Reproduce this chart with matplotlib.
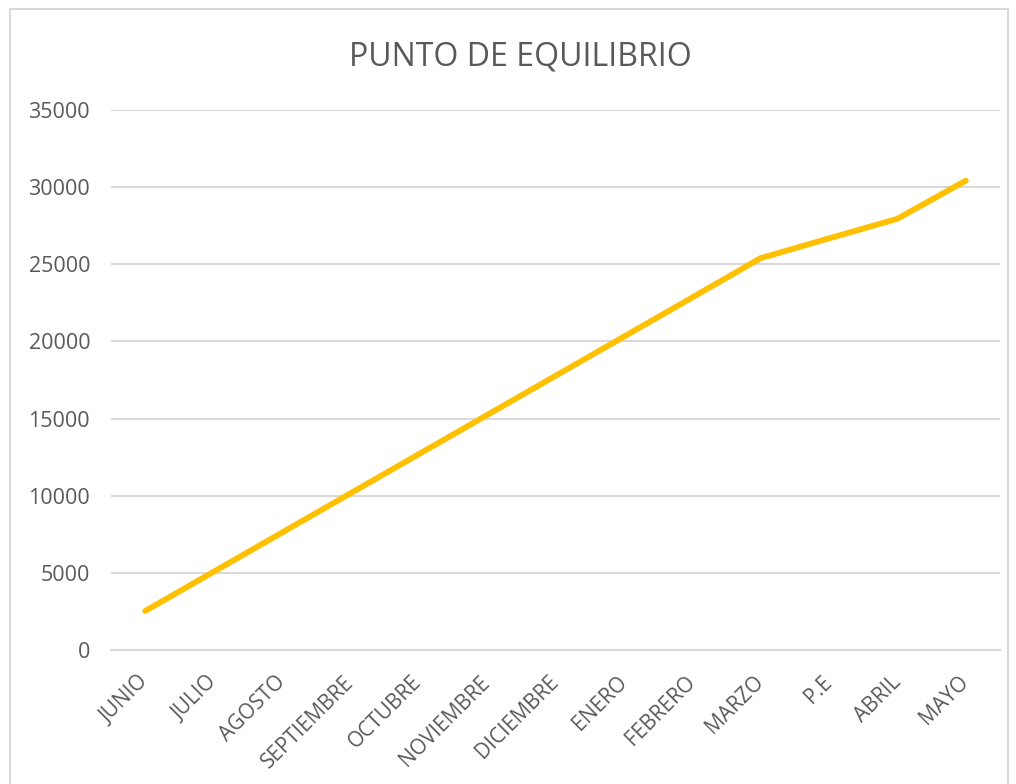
import matplotlib
matplotlib.use("Agg")
import matplotlib.pyplot as plt
from matplotlib.patches import Rectangle

categories = ["JUNIO", "JULIO", "AGOSTO", "SEPTIEMBRE", "OCTUBRE", "NOVIEMBRE",
              "DICIEMBRE", "ENERO", "FEBRERO", "MARZO", "P.E", "ABRIL", "MAYO"]
values = [2530, 5070, 7610, 10150, 12690, 15230, 17770, 20310, 22850, 25400,
          26680, 27950, 30420]
yticks = [0, 5000, 10000, 15000, 20000, 25000, 30000, 35000]
title = "PUNTO DE EQUILIBRIO"

plt.rcParams['font.family'] = ['Open Sans', 'DejaVu Sans']
text_color = "#595959"
grid_color = "#D9D9D9"

fig = plt.figure(figsize=(10.16, 7.84), dpi=100)
W, H = 1016, 784
ax = fig.add_axes([111 / W, 1 - 650 / H, (1000 - 111) / W, (650 - 110) / H])

x = list(range(len(categories)))
ax.plot(x, values, color="#FFC000", linewidth=4.2, solid_capstyle="round",
        solid_joinstyle="round", zorder=3)

ax.set_xlim(-0.5, len(categories) - 0.5)
ax.set_ylim(0, 35000)
ax.set_yticks(yticks)
ax.set_yticklabels([str(v) for v in yticks], fontsize=15.5, color=text_color)
ax.set_xticks(x)
ax.set_xticklabels(categories, fontsize=15, color=text_color, rotation=45,
                   ha="right", va="center", rotation_mode="anchor")
ax.tick_params(axis="x", length=0, pad=21)
ax.tick_params(axis="y", length=0, pad=15)
ax.grid(axis="y", color=grid_color, linewidth=1.5)
ax.set_axisbelow(True)
for s in ["top", "right", "left"]:
    ax.spines[s].set_visible(False)
ax.spines["bottom"].set_color(grid_color)
ax.spines["bottom"].set_linewidth(1.5)

fig.text(520 / W, 1 - 57 / H, title, fontsize=23, color=text_color,
         ha="center", va="center")

fig.patches.append(Rectangle((10 / W, -0.01), (1008 - 10) / W, 1 - 9 / H + 0.01,
                             transform=fig.transFigure, fill=False,
                             edgecolor=grid_color, linewidth=1.5))

fig.savefig("out.png", dpi=100, facecolor="white")
